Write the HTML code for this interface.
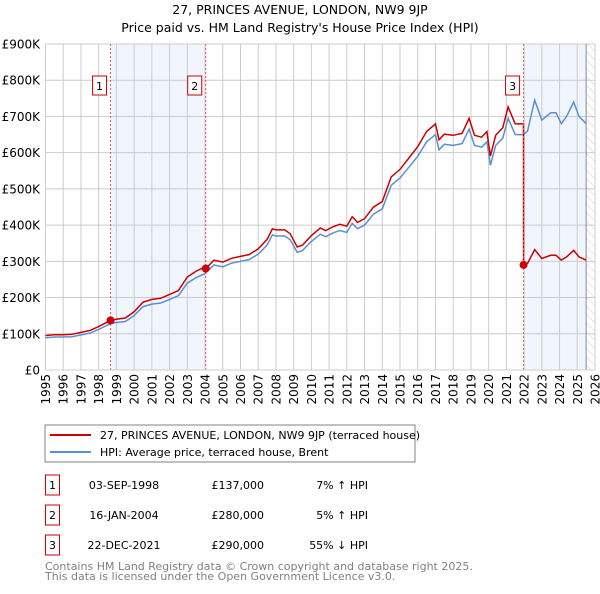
<!DOCTYPE html>
<html><head><meta charset="utf-8"><style>
body{margin:0;background:#fff;font-family:"DejaVu Sans","Liberation Sans",sans-serif;}
svg text{font-family:"DejaVu Sans","Liberation Sans",sans-serif;}
</style></head><body>
<svg id="c" width="600" height="590" xmlns="http://www.w3.org/2000/svg">
<defs><pattern id="hatch" width="6" height="6" patternUnits="userSpaceOnUse" patternTransform="rotate(-45)"><line x1="0" y1="0" x2="0" y2="6" stroke="#ccc" stroke-width="1"/></pattern></defs>
<text x="300" y="14" text-anchor="middle" font-size="12.5">27, PRINCES AVENUE, LONDON, NW9 9JP</text>
<text x="300" y="32" text-anchor="middle" font-size="12.5">Price paid vs. HM Land Registry's House Price Index (HPI)</text>
<g id="grid"></g><g id="plot"></g><g id="axes"></g>
<rect x="45" y="425" width="370" height="37" fill="#fff" stroke="#808080"/>
<line x1="50" y1="435" x2="91" y2="435" stroke="#cc0000" stroke-width="2"/>
<text x="100" y="439" font-size="11">27, PRINCES AVENUE, LONDON, NW9 9JP (terraced house)</text>
<line x1="50" y1="452" x2="91" y2="452" stroke="#5b8fd4" stroke-width="2"/>
<text x="100" y="456" font-size="11">HPI: Average price, terraced house, Brent</text>
<g id="table" font-size="11"></g>
<text x="45" y="570" font-size="11" fill="#808080">Contains HM Land Registry data © Crown copyright and database right 2025.</text>
<text x="45" y="580" font-size="11" fill="#808080">This data is licensed under the Open Government Licence v3.0.</text>
</svg>
<script>
const hpiYears=[1995,1995.5,1996,1996.5,1997,1997.5,1998,1998.67,1999,1999.5,2000,2000.5,2001,2001.5,2002,2002.5,2003,2003.5,2004,2004.5,2005,2005.5,2006,2006.5,2007,2007.5,2007.8,2008,2008.5,2008.8,2009.2,2009.5,2010,2010.5,2010.8,2011.2,2011.6,2012,2012.3,2012.6,2013,2013.5,2014,2014.5,2015,2015.5,2016,2016.5,2017,2017.2,2017.5,2018,2018.5,2018.9,2019.2,2019.6,2019.9,2020.1,2020.4,2020.8,2021.1,2021.5,2021.97,2022.2,2022.6,2023,2023.5,2023.8,2024.1,2024.4,2024.8,2025.1,2025.5];
const hpiValues=[89000,91000,91000,92000,97000,102000,112000,128000,131000,134000,150000,175000,182000,185000,195000,205000,240000,255000,266000,290000,285000,295000,300000,305000,320000,345000,373000,370000,370000,360000,325000,330000,355000,375000,368000,378000,385000,380000,405000,390000,400000,430000,445000,510000,530000,560000,590000,630000,650000,608000,623000,620000,625000,665000,620000,615000,630000,565000,620000,640000,695000,650000,650000,660000,745000,690000,710000,710000,680000,700000,740000,700000,680000];
const saleYears=[1998.67,2004.04,2021.97];
const salePrices=[137000,280000,290000];
const saleDates=["03-SEP-1998","16-JAN-2004","22-DEC-2021"];
const saleDiff=["7% \u2191 HPI","5% \u2191 HPI","55% \u2193 HPI"];
const yTicks=[0,100000,200000,300000,400000,500000,600000,700000,800000,900000];
const yTickLabels=["£0","£100K","£200K","£300K","£400K","£500K","£600K","£700K","£800K","£900K"];
const xTicks=[1995,1996,1997,1998,1999,2000,2001,2002,2003,2004,2005,2006,2007,2008,2009,2010,2011,2012,2013,2014,2015,2016,2017,2018,2019,2020,2021,2022,2023,2024,2025,2026];

const NS="http://www.w3.org/2000/svg";
const X0=45.5,X1=595,Y0=370,Y1=44;
const xs=y=>X0+(y-1995)/(2026-1995)*(X1-X0);
const ys=v=>Y0-v/900000*(Y0-Y1);
function mk(tag,attrs,parent){const e=document.createElementNS(NS,tag);for(const k in attrs)e.setAttribute(k,attrs[k]);parent.appendChild(e);return e;}
const grid=document.getElementById('grid'),plot=document.getElementById('plot'),axes=document.getElementById('axes'),table=document.getElementById('table');
function hpiAt(t){for(let i=0;i<hpiYears.length-1;i++){if(t>=hpiYears[i]&&t<=hpiYears[i+1]){const f=(t-hpiYears[i])/(hpiYears[i+1]-hpiYears[i]);return hpiValues[i]+f*(hpiValues[i+1]-hpiValues[i]);}}return hpiValues[hpiValues.length-1];}
let r=mk('rect',{x:xs(saleYears[0]),y:Y1,width:xs(saleYears[1])-xs(saleYears[0]),height:Y0-Y1,fill:'#eef3fc',opacity:0.8},grid);

r=mk('rect',{x:xs(saleYears[2]),y:Y1,width:xs(2025.5)-xs(saleYears[2]),height:Y0-Y1,fill:'#eef3fc',opacity:0.8},grid);

r=mk('rect',{x:xs(2025.5),y:Y1,width:X1-xs(2025.5),height:Y0-Y1,fill:'url(#hatch)'},grid);

yTicks.forEach((v,i)=>{const l=mk('line',{x1:X0,x2:X1,y1:ys(v),y2:ys(v),stroke:'#cccccc'},grid);

const t=mk('text',{x:40,y:ys(v)+4.5,'text-anchor':'end','font-size':12},axes);t.textContent=yTickLabels[i];
});
xTicks.forEach(y=>{const l=mk('line',{x1:xs(y),x2:xs(y),y1:Y1,y2:Y0,stroke:'#cccccc'},grid);

const t=mk('text',{x:0,y:0,'text-anchor':'end','font-size':12,transform:`translate(${xs(y)+4.5},${Y0+4}) rotate(-90)`},axes);t.textContent=y;
});
let ln=mk('line',{x1:xs(2025.5),x2:xs(2025.5),y1:Y1,y2:Y0,stroke:'#888'},grid);

let d=hpiYears.map((t,i)=>(i?'L':'M')+xs(t).toFixed(1)+','+ys(hpiValues[i]).toFixed(1)).join('');
let p=mk('path',{d:d,fill:'none',stroke:'#5b8fd4','stroke-width':1.5},plot);

function ratio(k){return salePrices[k]/hpiAt(saleYears[k]);}
let pts=[];
hpiYears.forEach((t,i)=>{let k=t<saleYears[1]?0:(t<saleYears[2]?1:2);if(t>saleYears[2]-0.001&&t<saleYears[2]+0.001)return;pts.push([t,hpiValues[i]*ratio(k)]);});
saleYears.forEach((t,k)=>{pts.push([t,salePrices[k]]);if(k>0)pts.push([t-0.001,hpiAt(t)*ratio(k-1)]);});
pts.sort((a,b)=>a[0]-b[0]);
d=pts.map((q,i)=>(i?'L':'M')+xs(q[0]).toFixed(1)+','+ys(q[1]).toFixed(1)).join('');
p=mk('path',{d:d,fill:'none',stroke:'#cc0000','stroke-width':1.5},plot);

saleYears.forEach((t,k)=>{
const v=mk('line',{x1:xs(t),x2:xs(t),y1:Y1,y2:Y0,stroke:'#ee5555','stroke-dasharray':'2,2'},plot);

const c=mk('circle',{cx:xs(t),cy:ys(salePrices[k]),r:4,fill:'#cc0000'},plot);

const b=mk('rect',{x:xs(t)-18,y:76,width:14,height:19,fill:'#fff',stroke:'#cc0000'},plot);

const tx=mk('text',{x:xs(t)-11,y:90,'text-anchor':'middle','font-size':11},plot);tx.textContent=k+1;

const ry=475+k*30;
const tb=mk('rect',{x:45.5,y:ry,width:14,height:20,fill:'#fff',stroke:'#cc0000'},table);

const items=[[52.5,'middle',String(k+1),'table-number'],[124,'middle',saleDates[k],'table-date'],[264,'end',salePrices[k].toLocaleString('en-GB',{style:'currency',currency:'GBP',maximumFractionDigits:0}),'table-price'],[368,'end',saleDiff[k],'table-hpi-diff']];
items.forEach(it=>{const e=mk('text',{x:it[0],y:ry+14,'text-anchor':it[1]},table);e.textContent=it[2];
});
});
let ax=mk('line',{x1:X0,x2:X1,y1:Y0,y2:Y0,stroke:'#ccc'},axes);

</script>
</body></html>
